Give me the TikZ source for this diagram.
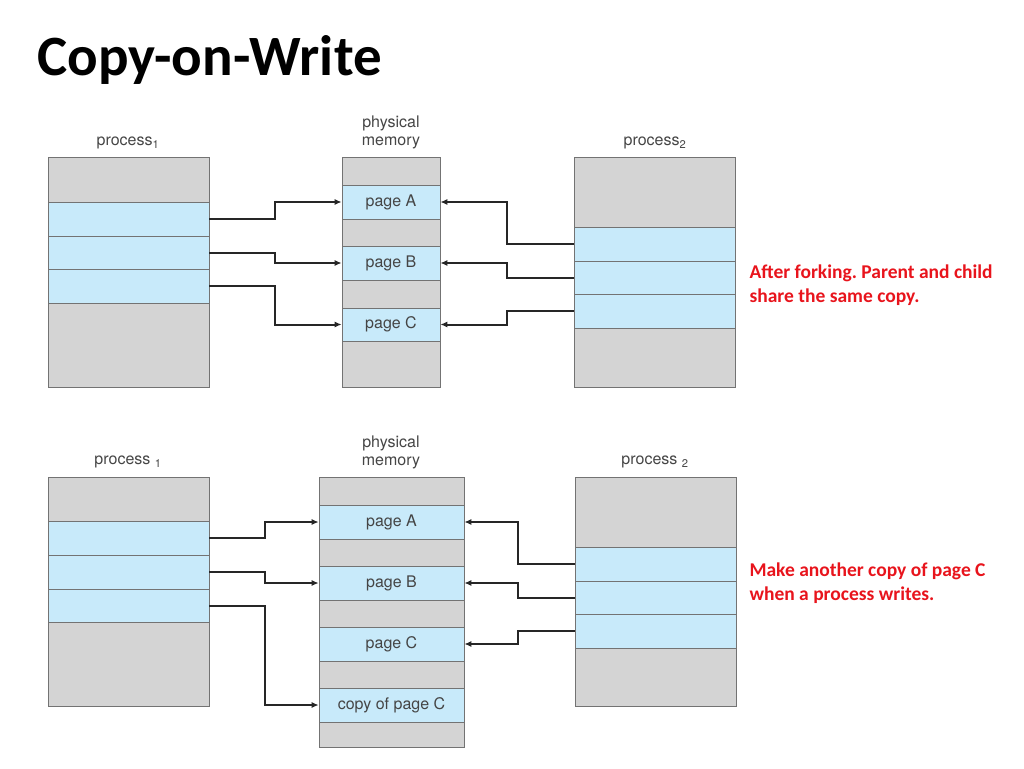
\documentclass[tikz,border=0pt]{standalone}
\usepackage{fontspec}
\setmainfont{TeX Gyre Heros}
\newfontfamily\carlfont{Carlito}
\usetikzlibrary{arrows.meta}
\definecolor{cellgray}{HTML}{D4D4D4}
\definecolor{cellblue}{HTML}{C8EAFA}
\definecolor{labelgray}{HTML}{454545}
\definecolor{notered}{HTML}{E8141C}
\frenchspacing
% one cell of a memory column: x1 y1 x2 y2
\newcommand{\cell}[7]{\node[cell, fill=#6, minimum width={#4-#2}, minimum height={#5-#3}] (#1) at ({(#2+#4)/2},{(#3+#5)/2}) {#7};}
\begin{document}
\begin{tikzpicture}[x=1pt, y=-1pt,
cell/.style={draw=black!55, line width=0.6pt, inner sep=0pt, text=labelgray, font=\fontsize{16}{18}\selectfont},
head/.style={text=labelgray, align=center, font=\fontsize{16}{18}\selectfont},
link/.style={line width=2pt, draw=black!85, -{Latex[length=7pt, width=6pt]}},
note/.style={text=notered, anchor=west, align=left, font=\carlfont\bfseries\fontsize{19.5}{24}\selectfont},
]
\useasboundingbox (0,0) rectangle (1024,768);
\node[anchor=west, inner sep=0pt, font=\carlfont\bfseries\fontsize{57}{60}\selectfont] (title) at (37,60) {Copy-on-Write};

%Top: process 1
\cell{ta0}{48}{157}{209}{202}{cellgray}{}
\cell{ta1}{48}{202}{209}{236}{cellblue}{}
\cell{ta2}{48}{236}{209}{269}{cellblue}{}
\cell{ta3}{48}{269}{209}{303}{cellblue}{}
\cell{ta4}{48}{303}{209}{387}{cellgray}{}
\node[head] (tah) at (128,143) {process\textsubscript{1}};

%Top: physical memory
\cell{tm0}{342}{157}{440}{185}{cellgray}{}
\cell{tmA}{342}{185}{440}{219}{cellblue}{page A}
\cell{tm1}{342}{219}{440}{246}{cellgray}{}
\cell{tmB}{342}{246}{440}{280}{cellblue}{page B}
\cell{tm2}{342}{280}{440}{308}{cellgray}{}
\cell{tmC}{342}{308}{440}{341}{cellblue}{page C}
\cell{tm3}{342}{341}{440}{387}{cellgray}{}
\node[head] (tmh) at (391,132) {physical\\memory};

%Top: process 2
\cell{tb0}{574}{157}{735}{227}{cellgray}{}
\cell{tb1}{574}{227}{735}{261}{cellblue}{}
\cell{tb2}{574}{261}{735}{294}{cellblue}{}
\cell{tb3}{574}{294}{735}{328}{cellblue}{}
\cell{tb4}{574}{328}{735}{387}{cellgray}{}
\node[head] (tbh) at (655,143) {process\textsubscript{2}};

%Top connections
\draw[link] (ta1.east) -- ++(66,0) |- (tmA.west);
\draw[link] (ta2.east) -- ++(66,0) |- (tmB.west);
\draw[link] (ta3.east) -- ++(66,0) |- (tmC.west);
\draw[link] (tb1.west) -- ++(-67,0) |- (tmA.east);
\draw[link] (tb2.west) -- ++(-67,0) |- (tmB.east);
\draw[link] (tb3.west) -- ++(-67,0) |- (tmC.east);
\node[note] (tnote) at (746,285) {After forking. Parent and child\\share the same copy.};

%Bottom: process 1
\cell{ba0}{48}{477}{209}{521}{cellgray}{}
\cell{ba1}{48}{521}{209}{555}{cellblue}{}
\cell{ba2}{48}{555}{209}{589}{cellblue}{}
\cell{ba3}{48}{589}{209}{622}{cellblue}{}
\cell{ba4}{48}{622}{209}{706}{cellgray}{}
\node[head] (bah) at (128,462) {process \textsubscript{1}};

%Bottom: physical memory
\cell{bm0}{319}{477}{464}{505}{cellgray}{}
\cell{bmA}{319}{505}{464}{539}{cellblue}{page A}
\cell{bm1}{319}{539}{464}{566}{cellgray}{}
\cell{bmB}{319}{566}{464}{600}{cellblue}{page B}
\cell{bm2}{319}{600}{464}{627}{cellgray}{}
\cell{bmC}{319}{627}{464}{661}{cellblue}{page C}
\cell{bm3}{319}{661}{464}{688}{cellgray}{}
\cell{bmD}{319}{688}{464}{722}{cellblue}{copy of page C}
\cell{bm4}{319}{722}{464}{747}{cellgray}{}
\node[head] (bmh) at (391,452) {physical\\memory};

%Bottom: process 2
\cell{bb0}{575}{477}{736}{547}{cellgray}{}
\cell{bb1}{575}{547}{736}{581}{cellblue}{}
\cell{bb2}{575}{581}{736}{614}{cellblue}{}
\cell{bb3}{575}{614}{736}{648}{cellblue}{}
\cell{bb4}{575}{648}{736}{706}{cellgray}{}
\node[head] (bbh) at (655,462) {process \textsubscript{2}};

%Bottom connections
\draw[link] (ba1.east) -- ++(56,0) |- (bmA.west);
\draw[link] (ba2.east) -- ++(56,0) |- (bmB.west);
\draw[link] (ba3.east) -- ++(56,0) |- (bmD.west);
\draw[link] (bb1.west) -- ++(-57,0) |- (bmA.east);
\draw[link] (bb2.west) -- ++(-57,0) |- (bmB.east);
\draw[link] (bb3.west) -- ++(-57,0) |- (bmC.east);
\node[note] (bnote) at (746,583) {Make another copy of page C\\when a process writes.};
\end{tikzpicture}
\end{document}
